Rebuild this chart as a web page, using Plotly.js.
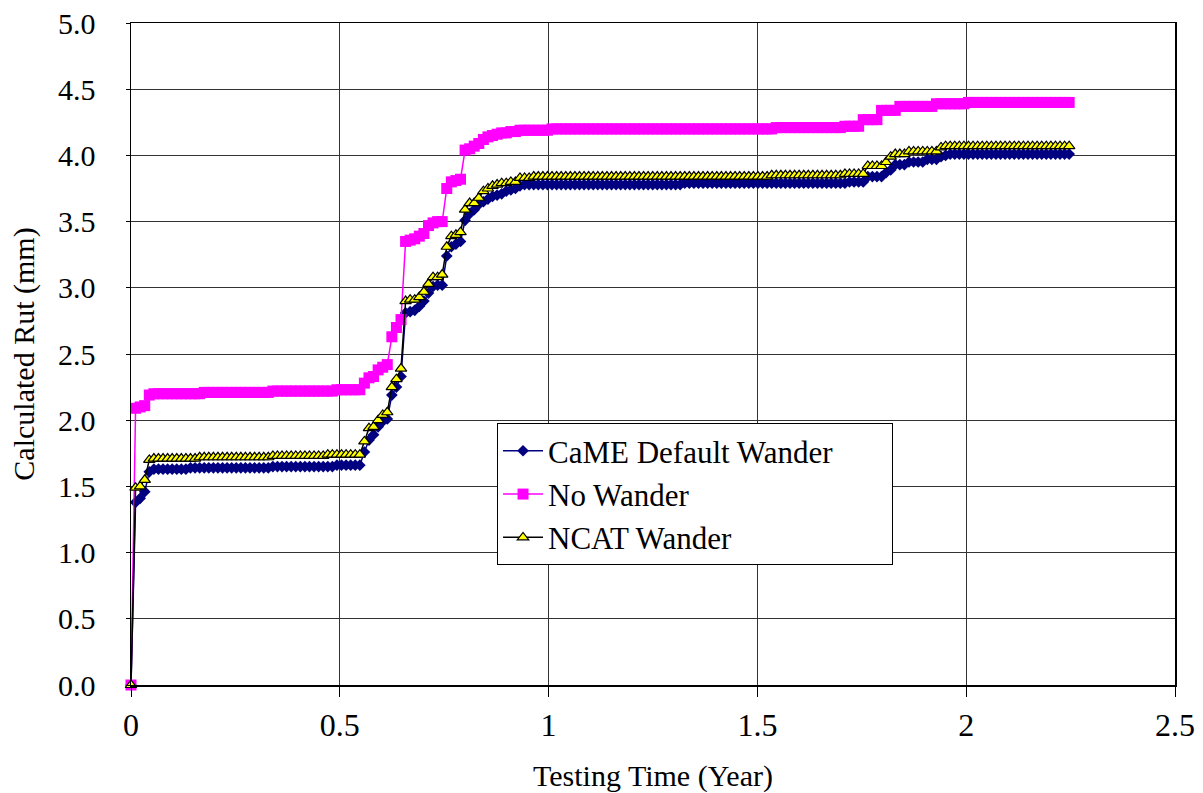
<!DOCTYPE html>
<html>
<head>
<meta charset="utf-8">
<script src="https://cdn.plot.ly/plotly-3.0.1.min.js"></script>
<style>html,body{margin:0;padding:0;background:#fff;}#chart{width:1203px;height:793px;}</style>
</head>
<body>
<div id="chart"></div>
<script>
// Testing time in days (every 4 days)
const testingDays = [
0,4,8,12,16,20,24,28,32,36,
40,44,48,52,56,60,64,68,72,76,
80,84,88,92,96,100,104,108,112,116,
120,124,128,132,136,140,144,148,152,156,
160,164,168,172,176,180,184,188,192,196,
200,204,208,212,216,220,224,228,232,236,
240,244,248,252,256,260,264,268,272,276,
280,284,288,292,296,300,304,308,312,316,
320,324,328,332,336,340,344,348,352,356,
360,364,368,372,376,380,384,388,392,396,
400,404,408,412,416,420,424,428,432,436,
440,444,448,452,456,460,464,468,472,476,
480,484,488,492,496,500,504,508,512,516,
520,524,528,532,536,540,544,548,552,556,
560,564,568,572,576,580,584,588,592,596,
600,604,608,612,616,620,624,628,632,636,
640,644,648,652,656,660,664,668,672,676,
680,684,688,692,696,700,704,708,712,716,
720,724,728,732,736,740,744,748,752,756,
760,764,768,772,776,780,784,788,792,796,
800,804,808,812,816,820
];

const cameDefaultWander = [
0,1.38,1.41,1.46,1.61,1.63,1.63,1.63,1.63,1.63,
1.63,1.63,1.63,1.64,1.64,1.64,1.64,1.64,1.64,1.64,
1.64,1.64,1.64,1.64,1.64,1.64,1.64,1.64,1.64,1.64,
1.64,1.65,1.65,1.65,1.65,1.65,1.65,1.65,1.65,1.65,
1.65,1.65,1.65,1.65,1.65,1.66,1.66,1.66,1.66,1.66,
1.66,1.76,1.85,1.89,1.95,1.99,2.01,2.19,2.25,2.33,
2.81,2.82,2.83,2.86,2.90,2.96,3.01,3.02,3.02,3.24,
3.31,3.33,3.35,3.51,3.56,3.59,3.63,3.65,3.67,3.69,
3.70,3.71,3.73,3.74,3.75,3.77,3.78,3.78,3.78,3.78,
3.78,3.78,3.78,3.78,3.78,3.78,3.78,3.78,3.78,3.78,
3.78,3.78,3.78,3.78,3.78,3.78,3.78,3.78,3.78,3.78,
3.78,3.78,3.78,3.78,3.78,3.78,3.78,3.78,3.78,3.78,
3.78,3.79,3.79,3.79,3.79,3.79,3.79,3.79,3.79,3.79,
3.79,3.79,3.79,3.79,3.79,3.79,3.79,3.79,3.79,3.79,
3.79,3.79,3.79,3.79,3.79,3.79,3.79,3.79,3.79,3.79,
3.79,3.79,3.79,3.79,3.79,3.79,3.79,3.80,3.80,3.80,
3.80,3.84,3.84,3.84,3.84,3.87,3.89,3.93,3.93,3.93,
3.95,3.95,3.95,3.95,3.97,3.97,3.97,3.99,4.00,4.01,
4.01,4.01,4.01,4.01,4.01,4.01,4.01,4.01,4.01,4.01,
4.01,4.01,4.01,4.01,4.01,4.01,4.01,4.01,4.01,4.01,
4.01,4.01,4.01,4.01,4.01,4.01
];

const noWander = [
0,2.09,2.10,2.11,2.19,2.20,2.20,2.20,2.20,2.20,
2.20,2.20,2.20,2.20,2.20,2.20,2.21,2.21,2.21,2.21,
2.21,2.21,2.21,2.21,2.21,2.21,2.21,2.21,2.21,2.21,
2.21,2.22,2.22,2.22,2.22,2.22,2.22,2.22,2.22,2.22,
2.22,2.22,2.22,2.22,2.22,2.23,2.23,2.23,2.23,2.23,
2.23,2.28,2.32,2.33,2.38,2.40,2.42,2.63,2.70,2.76,
3.35,3.36,3.37,3.39,3.41,3.47,3.49,3.50,3.50,3.75,
3.80,3.81,3.82,4.04,4.05,4.07,4.09,4.12,4.14,4.15,
4.16,4.17,4.17,4.18,4.18,4.19,4.19,4.19,4.19,4.19,
4.19,4.19,4.20,4.20,4.20,4.20,4.20,4.20,4.20,4.20,
4.20,4.20,4.20,4.20,4.20,4.20,4.20,4.20,4.20,4.20,
4.20,4.20,4.20,4.20,4.20,4.20,4.20,4.20,4.20,4.20,
4.20,4.20,4.20,4.20,4.20,4.20,4.20,4.20,4.20,4.20,
4.20,4.20,4.20,4.20,4.20,4.20,4.20,4.20,4.20,4.20,
4.20,4.21,4.21,4.21,4.21,4.21,4.21,4.21,4.21,4.21,
4.21,4.21,4.21,4.21,4.21,4.21,4.22,4.22,4.22,4.22,
4.27,4.27,4.27,4.27,4.34,4.34,4.34,4.34,4.37,4.37,
4.37,4.37,4.37,4.37,4.37,4.37,4.39,4.39,4.39,4.39,
4.39,4.39,4.39,4.40,4.40,4.40,4.40,4.40,4.40,4.40,
4.40,4.40,4.40,4.40,4.40,4.40,4.40,4.40,4.40,4.40,
4.40,4.40,4.40,4.40,4.40,4.40
];

const ncatWander = [
0,1.49,1.50,1.55,1.70,1.71,1.71,1.71,1.71,1.71,
1.71,1.71,1.71,1.71,1.71,1.72,1.72,1.72,1.72,1.72,
1.72,1.72,1.72,1.72,1.72,1.72,1.72,1.72,1.72,1.72,
1.72,1.73,1.73,1.73,1.73,1.73,1.73,1.73,1.73,1.73,
1.73,1.73,1.73,1.74,1.74,1.74,1.74,1.74,1.74,1.74,
1.74,1.84,1.94,1.95,2.00,2.04,2.06,2.25,2.31,2.39,
2.90,2.91,2.91,2.93,2.97,3.03,3.08,3.08,3.10,3.31,
3.39,3.40,3.42,3.59,3.64,3.64,3.68,3.73,3.75,3.77,
3.78,3.79,3.79,3.80,3.80,3.83,3.83,3.83,3.84,3.84,
3.84,3.84,3.84,3.84,3.84,3.84,3.84,3.84,3.84,3.84,
3.84,3.84,3.84,3.84,3.84,3.84,3.84,3.84,3.84,3.84,
3.84,3.84,3.84,3.84,3.84,3.84,3.84,3.84,3.84,3.84,
3.84,3.84,3.84,3.84,3.84,3.84,3.84,3.84,3.84,3.84,
3.84,3.84,3.84,3.84,3.84,3.84,3.84,3.84,3.84,3.84,
3.85,3.85,3.85,3.85,3.85,3.85,3.85,3.85,3.85,3.85,
3.85,3.85,3.85,3.85,3.85,3.85,3.86,3.86,3.86,3.86,
3.86,3.92,3.92,3.92,3.92,3.95,3.99,4.01,4.01,4.01,
4.03,4.03,4.03,4.03,4.03,4.03,4.03,4.06,4.07,4.07,
4.07,4.07,4.07,4.07,4.07,4.07,4.07,4.07,4.07,4.07,
4.07,4.07,4.07,4.07,4.07,4.07,4.07,4.07,4.07,4.07,
4.07,4.07,4.07,4.07,4.07,4.07
];

const seriesNames = ['CaME Default Wander', 'No Wander', 'NCAT Wander'];
const xTitle = 'Testing Time (Year)';
const yTitle = 'Calculated Rut (mm)';

const years = testingDays.map(d => d / 365);
const FONT = '"Liberation Serif", "DejaVu Serif", serif';
const legendPad = '\u00A0'.repeat(7); // widens the legend box to the reference width

const traces = [
  {
    x: years, y: cameDefaultWander, name: seriesNames[0] + legendPad, type: 'scatter', mode: 'lines+markers',
    line: {color: '#000080', width: 1.5},
    marker: {symbol: 'diamond', size: 9, color: '#000080', line: {width: 0}},
    cliponaxis: false
  },
  {
    x: years, y: noWander, name: seriesNames[1], type: 'scatter', mode: 'lines+markers',
    line: {color: '#FF00FF', width: 1.5},
    marker: {symbol: 'square', size: 11, color: '#FF00FF', line: {width: 0}},
    cliponaxis: false
  },
  {
    x: years, y: ncatWander, name: seriesNames[2], type: 'scatter', mode: 'lines+markers',
    line: {color: '#000000', width: 1.5},
    marker: {symbol: 'triangle-up', size: 10, color: '#FFFF00', line: {width: 1.2, color: '#000000'}},
    cliponaxis: false
  }
];

const layout = {
  width: 1203, height: 793,
  margin: {l: 131, r: 28, t: 23, b: 108},
  paper_bgcolor: '#ffffff', plot_bgcolor: '#ffffff',
  font: {family: FONT, color: '#000'},
  showlegend: true,
  legend: {
    x: 0.3506, y: 0.3956, xanchor: 'left', yanchor: 'top',
    bgcolor: '#ffffff', bordercolor: '#000000', borderwidth: 1,
    font: {family: FONT, size: 31, color: '#000'},
    tracegroupgap: 0, itemwidth: 40
  },
  xaxis: {
    range: [0, 2.5], tick0: 0, dtick: 0.5, autorange: false,
    showgrid: true, gridcolor: '#333333', gridwidth: 1,
    showline: true, linecolor: '#000', linewidth: 1.5, mirror: true,
    zeroline: false,
    ticks: 'outside', ticklen: 10, tickcolor: '#000', tickwidth: 1,
    tickfont: {family: FONT, size: 32, color: '#000'},
    ticklabelstandoff: 1,
    title: {text: xTitle, font: {family: FONT, size: 30, color: '#000'}, standoff: 23},
    automargin: false
  },
  yaxis: {
    range: [0, 5], tick0: 0, dtick: 0.5, autorange: false,
    tickformat: '.1f',
    showgrid: true, gridcolor: '#333333', gridwidth: 1,
    showline: true, linecolor: '#000', linewidth: 1.5, mirror: true,
    zeroline: false,
    ticks: 'outside', ticklen: 4, tickcolor: '#000', tickwidth: 1,
    tickfont: {family: FONT, size: 30, color: '#000'},
    ticklabelstandoff: 24,
    title: {text: yTitle, font: {family: FONT, size: 30, color: '#000'}, standoff: 14},
    automargin: false
  }
};

Plotly.newPlot('chart', traces, layout, {displayModeBar: false, staticPlot: true});
</script>
</body>
</html>
